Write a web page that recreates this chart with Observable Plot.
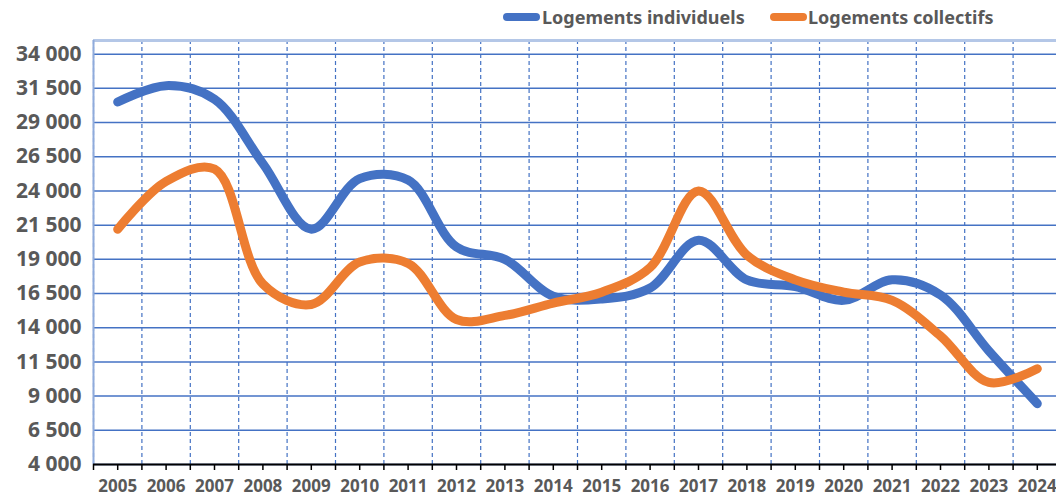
<!DOCTYPE html>
<html>
<head>
<meta charset="utf-8">
<script src="https://cdn.jsdelivr.net/npm/d3@7"></script>
<script src="https://cdn.jsdelivr.net/npm/@observablehq/plot@0.6"></script>
<style>
  html, body { margin: 0; padding: 0; background: #fff; }
  body { width: 1056px; height: 496px; overflow: hidden; font-family: "Noto Sans", sans-serif; }
  #legend { position: relative; height: 36px; width: 1056px; }
  .sw { position: absolute; top: 13px; height: 8px; width: 37px; border-radius: 4px; }
  .lt { position: absolute; top: 5px; font-size: 18px; font-weight: 700; color: #595959; line-height: 24px; white-space: nowrap; }
  #chart svg { display: block; }
</style>
</head>
<body>
<div id="legend"></div>
<div id="chart"></div>
<script>
const years = [2005,2006,2007,2008,2009,2010,2011,2012,2013,2014,2015,2016,2017,2018,2019,2020,2021,2022,2023,2024];
const individuels = [30500,31700,30700,26000,21200,24900,24800,19900,19000,16300,16100,16900,20400,17500,17000,16000,17500,16400,12300,8450];
const collectifs  = [21200,24700,25600,17200,15700,18800,18700,14600,14900,15800,16600,18400,24000,19300,17500,16600,16000,13400,10000,11000];
const yTicks = [4000,6500,9000,11500,14000,16500,19000,21500,24000,26500,29000,31500,34000];
const seriesNames = ["Logements individuels", "Logements collectifs"];
const seriesColors = ["#4472C4", "#ED7D31"];

const rows = [];
years.forEach((y, i) => {
  rows.push({year: y, value: individuels[i], serie: seriesNames[0]});
  rows.push({year: y, value: collectifs[i], serie: seriesNames[1]});
});
const bounds = [years[0] - 0.5, ...years.map(y => y + 0.5)];
const tickPos = [...bounds, ...years];
const fmt = v => {
  const th = Math.floor(v / 1000), r = v % 1000;
  return th + " " + String(r).padStart(3, "0");
};

// legend
const legend = document.getElementById("legend");
const legendPos = [{sw: 503, tx: 542}, {sw: 770, tx: 808}];
seriesNames.forEach((n, i) => {
  const s = document.createElement("div");
  s.className = "sw"; s.style.left = legendPos[i].sw + "px"; s.style.background = seriesColors[i];
  legend.appendChild(s);
  const t = document.createElement("div");
  t.className = "lt"; t.style.left = legendPos[i].tx + "px"; t.textContent = n;
  legend.appendChild(t);
});

const chart = Plot.plot({
  width: 1056,
  height: 460,
  marginLeft: 93,
  marginRight: -5,
  marginTop: 4,
  marginBottom: 32,
  style: {fontFamily: "'Noto Sans', sans-serif", color: "#595959", background: "#fff"},
  x: {type: "linear", domain: [2004.5, 2024.5], axis: null, label: null},
  y: {domain: [4000, 35000], axis: null, label: null},
  color: {domain: seriesNames, range: seriesColors},
  marks: [
    Plot.ruleY(yTicks, {stroke: "#4472C4", strokeWidth: 1.5}),
    Plot.ruleX(bounds, {y1: 4000, y2: 35000, stroke: "#4472C4", strokeWidth: 1.2, strokeDasharray: "4,3"}),
    Plot.ruleY([35000], {stroke: "#b4c7e7", strokeWidth: 3}),
    Plot.ruleX([2004.5], {y1: 4000, y2: 35000, stroke: "#8fabdc", strokeWidth: 2}),
    Plot.line(rows, {x: "year", y: "value", z: "serie", stroke: "serie", strokeWidth: 9, curve: "catmull-rom", strokeLinecap: "round", strokeLinejoin: "round"}),
    Plot.ruleY([4000], {stroke: "#000", strokeWidth: 2}),
    Plot.axisX(tickPos, {tickSize: 6, tickFormat: () => "", stroke: "#000", strokeWidth: 1.5, label: null}),
    Plot.axisX(years, {tickSize: 0, tickPadding: 15, tickFormat: d => String(d), fontSize: 17, fontWeight: 700, fill: "#595959", label: null}),
    Plot.axisY(yTicks, {tickSize: 0, tickPadding: 12, tickFormat: fmt, fontSize: 21, fontWeight: 700, fill: "#595959", label: null})
  ]
});
document.getElementById("chart").appendChild(chart);
</script>
</body>
</html>
